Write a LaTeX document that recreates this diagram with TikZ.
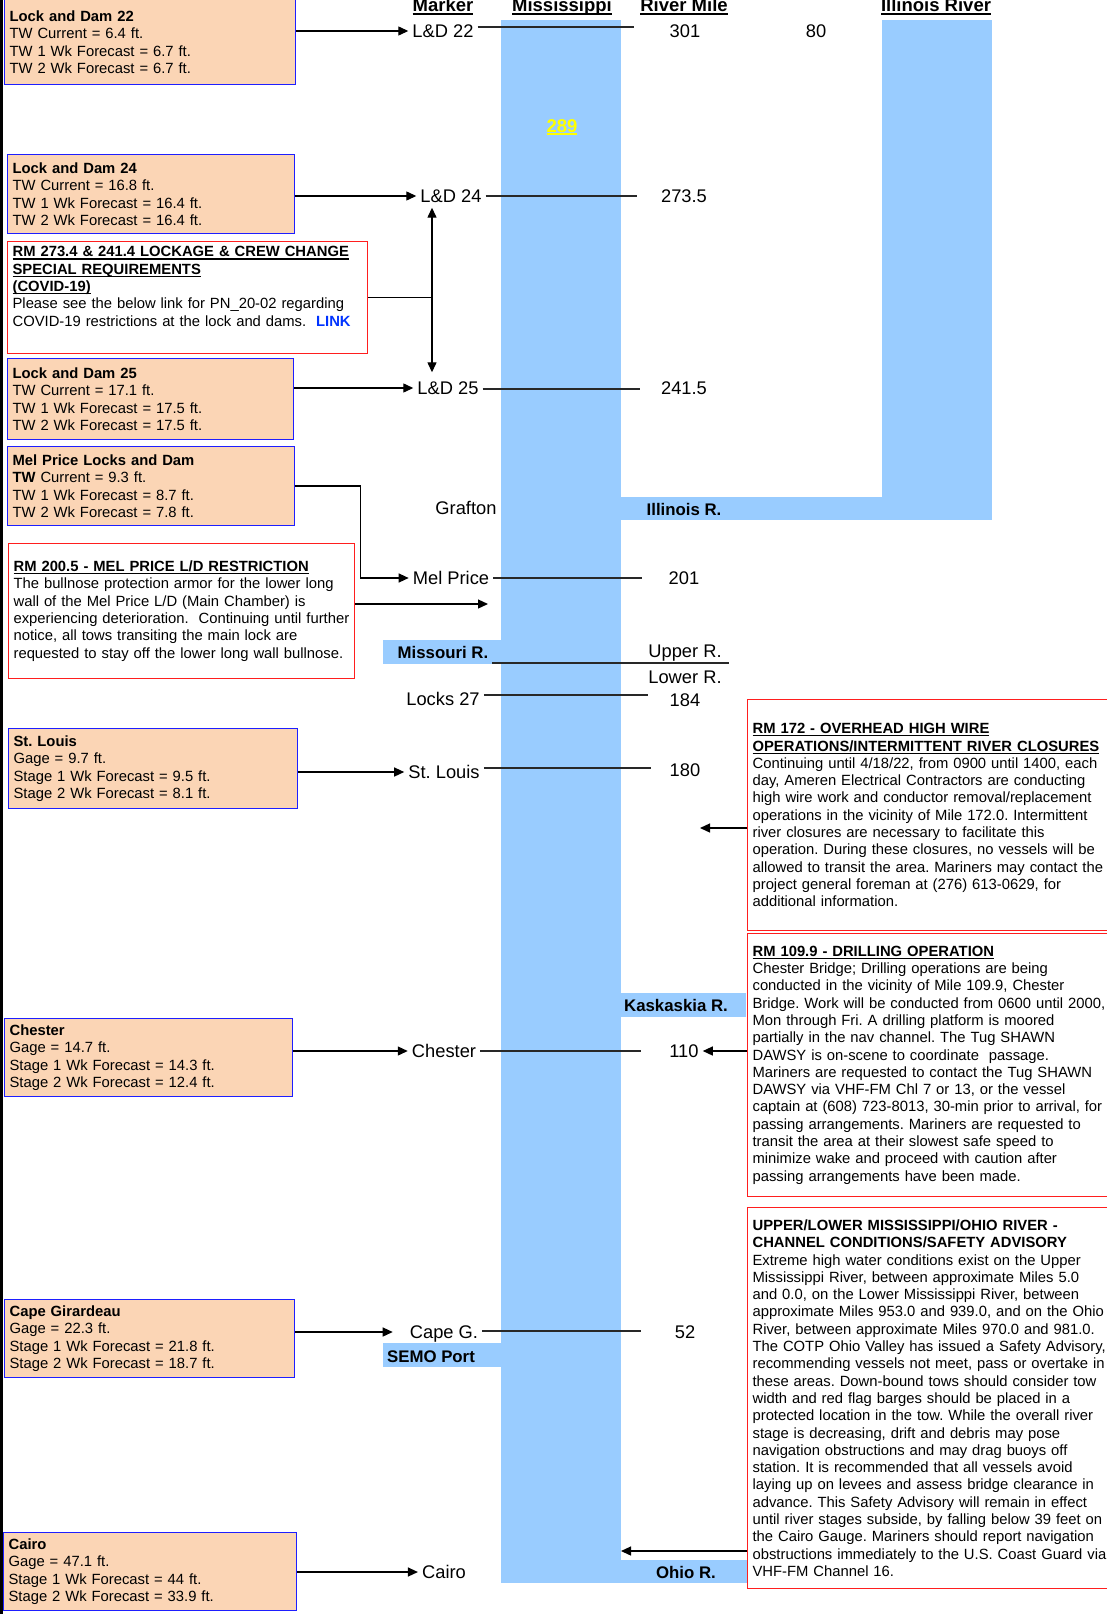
\documentclass[tikz,border=0pt]{standalone}
\usepackage{fontspec}
\setmainfont{Liberation Sans}
\usetikzlibrary{arrows.meta}

% colori del diagramma
\definecolor{fiume}{RGB}{153,204,255}
\definecolor{pesca}{RGB}{251,213,181}
\definecolor{bordoblu}{RGB}{30,30,255}
\definecolor{bordorosso}{RGB}{255,30,30}
\definecolor{linkblu}{RGB}{0,51,255}
\definecolor{giallo}{RGB}{255,255,0}
\definecolor{grigiotacca}{RGB}{40,40,40}

% sottolineatura con spessore a scelta
\newlength\sottow
\newcommand{\sotto}[2][1.1pt]{\leavevmode\settowidth{\sottow}{#2}\rlap{\rule[-2.6pt]{\sottow}{#1}}#2}
\newcommand{\corpo}{\fontsize{14.8}{17.3}\selectfont\frenchspacing}
\newcommand{\grande}{\fontsize{18.3}{20}\selectfont\frenchspacing}

\begin{document}
\begin{tikzpicture}[x=1pt, y=-1pt,
    misura/.style={draw=bordoblu, fill=pesca, line width=1.2pt, anchor=north west,
        inner xsep=5pt, inner ysep=3pt, font=\corpo,
        execute at begin node={\rightskip=0pt minus 40pt\parindent=0pt}},
    avviso/.style={misura, draw=bordorosso, fill=white},
    segno/.style={font=\grande, text height=13pt, text depth=0pt, inner xsep=4pt, inner ysep=1pt},
    fiumetxt/.style={font=\fontsize{16.8}{18}\selectfont\bfseries, text height=12pt, text depth=0pt},
    testa/.style={font=\fontsize{18.5}{20}\selectfont\bfseries, anchor=base},
    tacca/.style={draw=grigiotacca, line width=1.4pt},
    linea/.style={line width=1.3pt},
    freccia/.style={line width=1.3pt, -{Triangle[length=10pt,width=9pt]}}]
    \useasboundingbox (0,0) rectangle (1107,1614);

    % Bordo nero a sinistra
    \fill[black] (0,0) rectangle (2.6,1614);

    % Fiumi: Mississippi, Illinois e affluenti
    \fill[fiume] (501,20) rectangle (621,1583);
    \fill[fiume] (882,20) rectangle (992,520);
    \fill[fiume] (621,497) rectangle (992,520);
    \fill[fiume] (383,640) rectangle (501,664);
    \fill[fiume] (621,993) rectangle (746,1017);
    \fill[fiume] (383,1343) rectangle (501,1367);
    \fill[fiume] (621,1560) rectangle (747,1583);
    \node[fiumetxt] (illr) at (684,509) {Illinois R.};
    \node[fiumetxt] (misr) at (443,652) {Missouri R.};
    \node[fiumetxt] (kasr) at (676,1005) {Kaskaskia R.};
    \node[fiumetxt] (semo) at (431,1356) {SEMO Port};
    \node[fiumetxt] (ohior) at (686,1572) {Ohio R.};
    \node[font=\fontsize{18.5}{20}\selectfont\bfseries, text=giallo, text height=13pt, text depth=0pt] (m289) at (562,126) {\sotto[1.8pt]{289}};

    % Intestazioni delle colonne
    \node[testa] (hmark) at (443,12) {\sotto[1.8pt]{Marker}};
    \node[testa] (hmiss) at (562,12) {\sotto[1.8pt]{Mississippi}};
    \node[testa] (hmile) at (684,12) {\sotto[1.8pt]{River Mile}};
    \node[testa] (hill) at (936,12) {\sotto[1.8pt]{Illinois River}};

    % Punti lungo il fiume (a sinistra) e miglia (a destra)
    \node[segno] (ld22) at (443,31) {L\&D 22};
    \node[segno] (ld24) at (451,196) {L\&D 24};
    \node[segno] (ld25) at (448,388) {L\&D 25};
    \node[segno] (graf) at (466,508) {Grafton};
    \node[segno] (melp) at (451,578) {Mel Price};
    \node[segno] (lk27) at (443,699) {Locks 27};
    \node[segno] (stl) at (444,772) {St. Louis};
    \node[segno] (ches) at (444,1051) {Chester};
    \node[segno] (capeg) at (444,1332) {Cape G.};
    \node[segno] (cairo) at (444,1572) {Cairo};

    \node[segno] (m301) at (685,31) {301};
    \node[segno] (m80) at (816,31) {80};
    \node[segno] (m273) at (684,196) {273.5};
    \node[segno] (m241) at (684,388) {241.5};
    \node[segno] (m201) at (684,578) {201};
    \node[segno] (upr) at (685,651) {Upper R.};
    \node[segno] (lwr) at (685,677) {Lower R.};
    \node[segno] (m184) at (685,700) {184};
    \node[segno] (m180) at (685,770) {180};
    \node[segno] (m110) at (684,1051) {110};
    \node[segno] (m52) at (685,1332) {52};

    % Coordinate per comodità: estremi destri delle tacche
    \coordinate (e22) at (634,27);
    \coordinate (e24) at (637,196);
    \coordinate (e25) at (640,389);
    \coordinate (emel) at (642,578);
    \coordinate (eup1) at (492,663);
    \coordinate (eup2) at (729,663);
    \coordinate (e27) at (648,695);
    \coordinate (estl) at (651,768);
    \coordinate (eche) at (641,1051);
    \coordinate (ecap) at (641,1331);

    % Tacche sul fiume
    \draw[tacca] (ld22.east |- e22) -- (e22);
    \draw[tacca] (ld24.east |- e24) -- (e24);
    \draw[tacca] (ld25.east |- e25) -- (e25);
    \draw[tacca] (melp.east |- emel) -- (emel);
    \draw[tacca] (eup1) -- (eup2);
    \draw[tacca] (lk27.east |- e27) -- (e27);
    \draw[tacca] (stl.east |- estl) -- (estl);
    \draw[tacca] (ches.east |- eche) -- (eche);
    \draw[tacca] (capeg.east |- ecap) -- (ecap);

    % Riquadri dei livelli (a sinistra)
    \node[misura, text width=281pt, minimum height=85pt] (b22) at (4,-1)
        {\textbf{Lock and Dam 22}\\TW Current = 6.4 ft.\\TW 1 Wk Forecast = 6.7 ft.\\TW 2 Wk Forecast = 6.7 ft.};
    \node[misura, text width=277pt, minimum height=79pt] (b24) at (7,154)
        {\textbf{Lock and Dam 24}\\TW Current = 16.8 ft.\\TW 1 Wk Forecast = 16.4 ft.\\TW 2 Wk Forecast = 16.4 ft.};
    \node[avviso, text width=350pt, minimum height=112pt] (covid) at (7,241)
        {\sotto{\textbf{RM 273.4 \& 241.4 LOCKAGE \& CREW CHANGE}}\\
         \sotto{\textbf{SPECIAL REQUIREMENTS}}\\
         \sotto{\textbf{(COVID-19)}}\\
         Please see the below link for PN\_20-02 regarding\\
         COVID-19 restrictions at the lock and dams.~~\textcolor{linkblu}{\textbf{LINK}}\\ \strut};
    \node[misura, text width=276pt, minimum height=81pt] (b25) at (7,358)
        {\textbf{Lock and Dam 25}\\TW Current = 17.1 ft.\\TW 1 Wk Forecast = 17.5 ft.\\TW 2 Wk Forecast = 17.5 ft.};
    \node[misura, text width=277pt, minimum height=79pt] (bmel) at (7,446)
        {\textbf{Mel Price Locks and Dam}\\\textbf{TW} Current = 9.3 ft.\\TW 1 Wk Forecast = 8.7 ft.\\TW 2 Wk Forecast = 7.8 ft.};
    \node[avviso, text width=336pt, minimum height=135pt] (melrule) at (8,543)
        {\sotto{\textbf{RM 200.5 - MEL PRICE L/D RESTRICTION}}\\
         The bullnose protection armor for the lower long\\
         wall of the Mel Price L/D (Main Chamber) is\\
         experiencing deterioration.~ Continuing until further\\
         notice, all tows transiting the main lock are\\
         requested to stay off the lower long wall bullnose.};
    \node[misura, text width=279pt, minimum height=80pt] (bstl) at (8,728)
        {\textbf{St. Louis}\\Gage = 9.7 ft.\\Stage 1 Wk Forecast = 9.5 ft.\\Stage 2 Wk Forecast = 8.1 ft.};
    \node[misura, text width=278pt, minimum height=78pt] (bche) at (4,1018)
        {\textbf{Chester}\\Gage = 14.7 ft.\\Stage 1 Wk Forecast = 14.3 ft.\\Stage 2 Wk Forecast = 12.4 ft.};
    \node[misura, text width=280pt, minimum height=78pt] (bcape) at (4,1299)
        {\textbf{Cape Girardeau}\\Gage = 22.3 ft.\\Stage 1 Wk Forecast = 21.8 ft.\\Stage 2 Wk Forecast = 18.7 ft.};
    \node[misura, text width=283pt, minimum height=78pt] (bcairo) at (3,1532)
        {\textbf{Cairo}\\Gage = 47.1 ft.\\Stage 1 Wk Forecast = 44 ft.\\Stage 2 Wk Forecast = 33.9 ft.};

    % Avvisi (a destra), tagliati dal bordo della pagina
    \node[avviso, text width=400pt, minimum height=231pt] (rm172) at (747,699)
        {\sotto{\textbf{RM 172 - OVERHEAD HIGH WIRE}}\\
         \sotto{\textbf{OPERATIONS/INTERMITTENT RIVER CLOSURES}}\\
         Continuing until 4/18/22, from 0900 until 1400, each\\
         day, Ameren Electrical Contractors are conducting\\
         high wire work and conductor removal/replacement\\
         operations in the vicinity of Mile 172.0. Intermittent\\
         river closures are necessary to facilitate this\\
         operation. During these closures, no vessels will be\\
         allowed to transit the area. Mariners may contact the\\
         project general foreman at (276) 613-0629, for\\
         additional information.};
    \node[avviso, text width=400pt, minimum height=263pt] (rm109) at (747,933)
        {\sotto{\textbf{RM 109.9 - DRILLING OPERATION}}\\
         Chester Bridge; Drilling operations are being\\
         conducted in the vicinity of Mile 109.9, Chester\\
         Bridge. Work will be conducted from 0600 until 2000,\\
         Mon through Fri. A drilling platform is moored\\
         partially in the nav channel. The Tug SHAWN\\
         DAWSY is on-scene to coordinate~ passage.\\
         Mariners are requested to contact the Tug SHAWN\\
         DAWSY via VHF-FM Chl 7 or 13, or the vessel\\
         captain at (608) 723-8013, 30-min prior to arrival, for\\
         passing arrangements. Mariners are requested to\\
         transit the area at their slowest safe speed to\\
         minimize wake and proceed with caution after\\
         passing arrangements have been made.};
    \node[avviso, text width=400pt, minimum height=381pt] (advis) at (747,1207)
        {\textbf{UPPER/LOWER MISSISSIPPI/OHIO RIVER -}\\
         \textbf{CHANNEL CONDITIONS/SAFETY ADVISORY}\\
         Extreme high water conditions exist on the Upper\\
         Mississippi River, between approximate Miles 5.0\\
         and 0.0, on the Lower Mississippi River, between\\
         approximate Miles 953.0 and 939.0, and on the Ohio\\
         River, between approximate Miles 970.0 and 981.0.\\
         The COTP Ohio Valley has issued a Safety Advisory,\\
         recommending vessels not meet, pass or overtake in\\
         these areas. Down-bound tows should consider tow\\
         width and red flag barges should be placed in a\\
         protected location in the tow. While the overall river\\
         stage is decreasing, drift and debris may pose\\
         navigation obstructions and may drag buoys off\\
         station. It is recommended that all vessels avoid\\
         laying up on levees and assess bridge clearance in\\
         advance. This Safety Advisory will remain in effect\\
         until river stages subside, by falling below 39 feet on\\
         the Cairo Gauge. Mariners should report navigation\\
         obstructions immediately to the U.S. Coast Guard via\\
         VHF-FM Channel 16.};

    % Frecce dai riquadri verso i punti
    \draw[freccia] (ld22.west -| b22.east) -- (ld22.west);
    \draw[freccia] (ld24.west -| b24.east) -- (ld24.west);
    \draw[freccia] (ld25.west -| b25.east) -- (ld25.west);
    \draw[freccia] (stl.west -| bstl.east) -- (stl.west);
    \draw[freccia] (ches.west -| bche.east) -- (ches.west);
    \draw[freccia, shorten >=13pt] (capeg.west -| bcape.east) -- (capeg.west);
    \draw[freccia] (cairo.west -| bcairo.east) -- (cairo.west);

    % Avviso COVID: una linea verso L&D 24 e L&D 25
    \coordinate (snodo) at (432,297);
    \draw[linea] (covid.east) -- (covid.east -| snodo);
    \draw[freccia, shorten >=4pt] (covid.east -| snodo) -- (snodo |- ld24.south);
    \draw[freccia, shorten >=8pt] (covid.east -| snodo) -- (snodo |- ld25.north);

    % Mel Price
    \draw[freccia] (bmel.east) -- ++(65,0) |- (melp.west);
    \coordinate (pmel) at (488,604);
    \draw[freccia] (melrule.east |- pmel) -- (pmel);

    % Frecce dagli avvisi a destra
    \coordinate (p172) at (700,828);
    \draw[freccia] (rm172.west |- p172) -- (p172);
    \draw[freccia] (rm109.west |- m110) -- (m110.east);
    \coordinate (pohio) at (621,1551);
    \draw[freccia] (advis.west |- pohio) -- (pohio);
\end{tikzpicture}
\end{document}
